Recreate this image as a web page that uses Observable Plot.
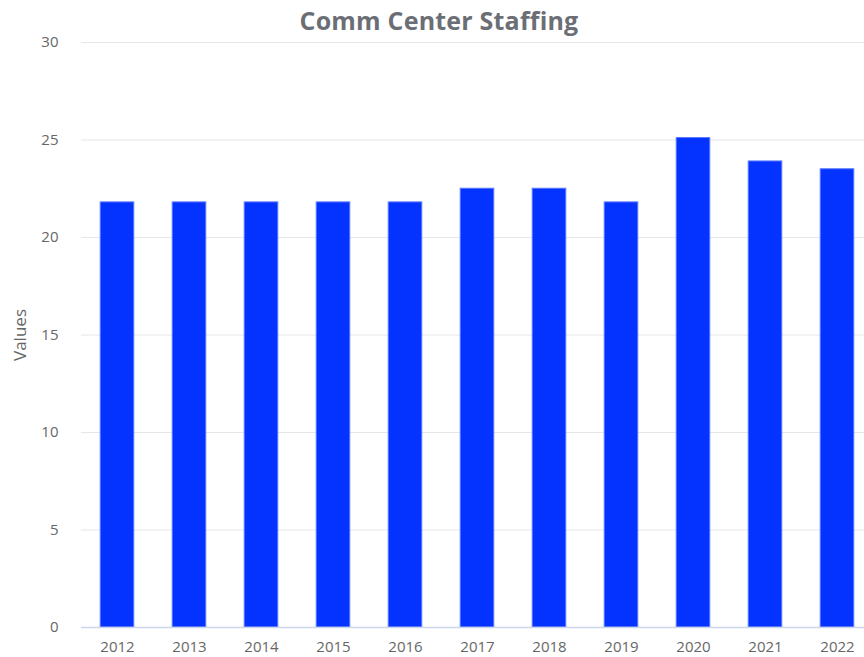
<!DOCTYPE html>
<html>
<head>
<meta charset="utf-8">
<script src="https://cdn.jsdelivr.net/npm/d3@7"></script>
<script src="https://cdn.jsdelivr.net/npm/@observablehq/plot@0.6"></script>
<style>
  html, body { margin: 0; padding: 0; background: #fff; }
  #wrap { width: 864px; height: 657px; overflow: hidden; position: relative; }
  #title { height: 32px; line-height: 40px; text-align: center; font-family: "Open Sans", sans-serif; font-weight: 700; font-size: 25px; color: #6b6e75; padding-left: 14px; box-sizing: border-box; letter-spacing: 0.2px; }
  svg { display: block; }
  svg [aria-label="y-axis label"] text { font-size: 17px; }
</style>
</head>
<body>
<div id="wrap">
  <div id="title">Comm Center Staffing</div>
  <div id="chart"></div>
</div>
<script>
const years = ["2012","2013","2014","2015","2016","2017","2018","2019","2020","2021","2022"];
const values = [21.8, 21.8, 21.8, 21.8, 21.8, 22.5, 22.5, 21.8, 25.1, 23.9, 23.5];
const yTicks = [0, 5, 10, 15, 20, 25, 30];

const data = years.map((y, i) => ({year: y, value: values[i]}));

const chart = Plot.plot({
  width: 864,
  height: 625,
  marginTop: 10,
  marginBottom: 30,
  marginLeft: 81,
  marginRight: -9,
  style: {fontFamily: "'Open Sans', sans-serif", fontSize: "15px", color: "#666666", background: "white"},
  x: {domain: years, paddingInner: 0.52, paddingOuter: 0.26, round: false, label: null},
  y: {domain: [0, 30], ticks: yTicks, label: "Values"},
  marks: [
    Plot.gridY(yTicks, {stroke: "#e6e6e6", strokeOpacity: 1, strokeWidth: 1}),
    Plot.axisY(yTicks, {tickSize: 0, tickPadding: 23, label: "Values", labelAnchor: "center", labelArrow: "none", labelOffset: 68, fontSize: 15, fill: "#666666"}),
    Plot.axisX({tickSize: 0, tickPadding: 14, fontSize: 15, fill: "#666666", label: null}),
    Plot.barY(data, {x: "year", y: "value", fill: "#0433ff", stroke: "#5a78ff", strokeWidth: 1, insetLeft: 0.5, insetRight: 0.5}),
    Plot.ruleY([0], {stroke: "#ccd6eb", strokeWidth: 1.5})
  ]
});
document.getElementById("chart").appendChild(chart);
</script>
</body>
</html>
